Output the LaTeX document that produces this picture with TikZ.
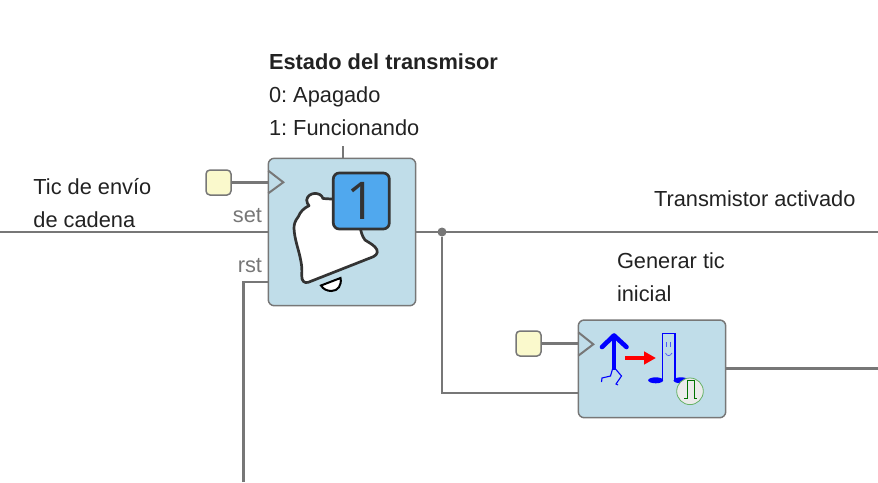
\documentclass[tikz,border=0pt]{standalone}
\usepackage{fontspec}
\setmainfont{Liberation Sans}
\newfontfamily\digitfont{Open Sans}
\definecolor{wire}{HTML}{777777}
\definecolor{blockfill}{HTML}{C0DDE9}
\definecolor{clk}{HTML}{FAF9CC}
\definecolor{badge}{HTML}{50A8EE}
\definecolor{ink}{HTML}{333333}
\definecolor{txt}{HTML}{222222}
\definecolor{pinlabel}{HTML}{777777}
\tikzset{
  wireline/.style={draw=wire,line width=2.4pt},
  blockbox/.style={draw=wire,line width=1.5pt,fill=blockfill,rounded corners=6pt,minimum width=147.4pt,inner sep=0pt,outer sep=0pt},
  clkbox/.style={draw=wire,line width=1.5pt,fill=clk,rounded corners=4pt,minimum width=25pt,minimum height=25pt,inner sep=0pt,outer sep=0pt},
  tick/.style={draw=wire,line width=2pt,fill=none,line join=miter},
  lab/.style={anchor=base west,inner sep=0pt,outer sep=0pt,text=txt,font=\fontsize{21.8}{26}\selectfont\frenchspacing},
  pin/.style={anchor=base east,inner sep=0pt,outer sep=0pt,text=pinlabel,font=\fontsize{21.8}{26}\selectfont},
  junction/.style={circle,fill=wire,inner sep=0pt,minimum size=9pt},
}
\begin{document}
\begin{tikzpicture}[x=1pt,y=-1pt]
\useasboundingbox (0,0) rectangle (878,482);
% free wire ends
\coordinate (inL) at (0,232);
\coordinate (rstBot) at (243.5,482);
\coordinate (outR) at (878,232);
\coordinate (out2R) at (878,368.5);
\coordinate (topW) at (343,146);
\coordinate (bendA) at (442,393);
% wires below the blocks
\draw[wireline] (inL) -- (268.3,232);
\draw[wireline] (rstBot) -- (243.5,282) -- (268.3,282);
\draw[wireline] (topW) -- (343,158.3);
\draw[wireline] (outR) -- (415.7,232);
\draw[wireline] (out2R) -- (725.7,368.5);
% blocks
\node[blockbox,minimum height=147.4pt] (regblock) at (342,232) {};
\node[blockbox,minimum height=97.7pt] (tickblock) at (652,368.85) {};
\node[clkbox] (clkA) at (218.5,182.5) {};
\node[clkbox] (clkB) at (528.5,343.5) {};
\node[junction] (jn) at (442,232) {};
\draw[wireline] (jn) -- (bendA) -- (bendA -| tickblock.west);
\draw[wireline] (clkA.east) -- (268.3,182.5);
\draw[wireline] (clkB.east) -- (578.3,343.5);
% clock triangles
\draw[tick] (268.3,170.7) -- (283.3,182.3) -- (268.3,193.3);
\draw[tick] (578.3,332.3) -- (593.3,344.3) -- (578.3,355.7);
% bell
\draw[ink,line width=2.7pt,fill=white,line join=round]
  (336,199.3) -- (323,198.5)
  .. controls (321,191.5) and (308,191.5) .. (306.7,200)
  .. controls (306.5,202.5) and (308,204) .. (309,205.7)
  .. controls (304,208) and (300,212) .. (298.3,216.7)
  .. controls (295,221) and (294,224) .. (294,228.3)
  .. controls (294.5,240) and (299,250) .. (301,261.7)
  .. controls (302,267) and (302,271) .. (301.7,275)
  .. controls (301.5,281) and (304,283.5) .. (308.3,282.3)
  -- (373.3,256.7)
  .. controls (378,254.5) and (378.5,250.5) .. (375,247)
  .. controls (372,244) and (368,242) .. (365,240)
  .. controls (362,236) and (361,232) .. (360,226)
  -- cycle;
\draw[black,line width=2pt,fill=white] (321,285.5) -- (340.5,278) .. controls (342,285) and (338,291) .. (331.5,291) .. controls (327,291) and (323,289) .. (321,285.5) -- cycle;
\node[draw=ink,line width=2.7pt,fill=badge,rounded corners=6pt,minimum width=56pt,minimum height=56pt,inner sep=0pt,text=ink,font=\digitfont\fontsize{52}{52}\selectfont] (badgebox) at (361.3,201) {1};
% tick icon
\draw[blue,line width=4.6pt,line cap=round,line join=round] (602,347) -- (614,335.5) -- (626.5,347);
\draw[blue,line width=4.6pt] (614,336) -- (614,370);
\draw[blue,line width=1.1pt] (612.5,369) -- (610.5,376) -- (602,378) -- (601.5,382);
\draw[blue,line width=1.1pt] (615.5,369) -- (621.5,376) -- (616,384) -- (618,385);
\draw[red,line width=3.4pt] (625,358) -- (646,358);
\fill[red] (655.7,358) -- (644,351.3) -- (644,364.7) -- cycle;
\fill[blue] (655.7,380.3) ellipse (7.5 and 3);
\fill[blue] (681,380.3) ellipse (7.5 and 3);
\draw[blue,line width=1.4pt,fill=blockfill] (662.7,380) -- (662.7,333.7) -- (675,333.7) -- (675,380);
\draw[blue!60!blockfill,line width=.7pt] (666.5,342) -- (666.5,347) (670.5,342) -- (670.5,347);
\draw[blue!60!blockfill,line width=.7pt] (665.5,353) .. controls (667,356.5) and (670,356.5) .. (672,353);
\node[circle,draw=green!50!black!60,line width=.8pt,fill=black!8,minimum size=26.6pt,inner sep=0pt] (pulse) at (690,391.3) {};
\draw[green!45!black,line width=1.3pt] (684.3,398.7) -- (687.3,398.7) -- (687.3,380.7) -- (694.3,380.7) -- (694.3,398.7) -- (697.3,398.7);
% labels
\node[lab,font=\fontsize{21.8}{26}\selectfont\bfseries] (t1) at (269,69.5) {Estado del transmisor};
\node[lab] (t2) at (269,102.5) {0: Apagado};
\node[lab] (t3) at (269,135.5) {1: Funcionando};
\node[lab] (t4) at (33.4,194) {Tic de envío};
\node[lab] (t5) at (33.4,227) {de cadena};
\node[pin] (t6) at (262,222.5) {set};
\node[pin] (t7) at (262,272.5) {rst};
\node[lab] (t8) at (654,206.5) {Transmistor activado};
\node[lab] (t9) at (617,268.5) {Generar tic};
\node[lab] (t10) at (617,301.5) {inicial};
\end{tikzpicture}
\end{document}
